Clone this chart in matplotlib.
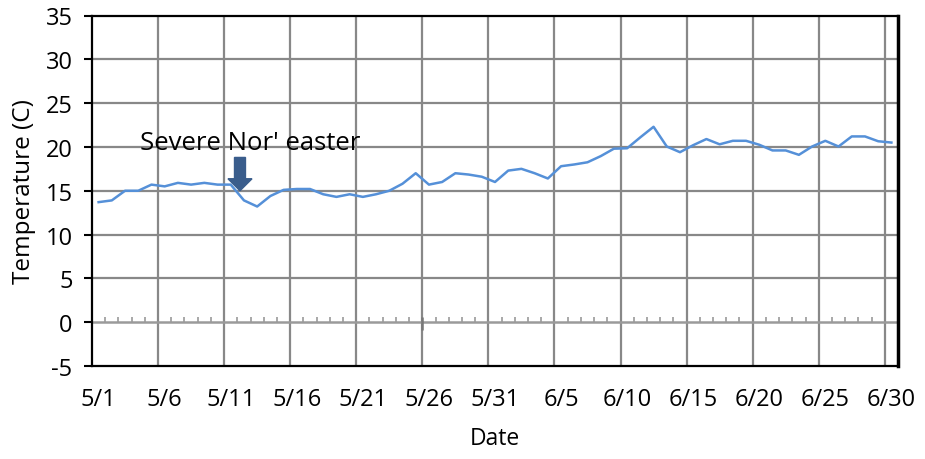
import matplotlib
matplotlib.use("Agg")
import matplotlib.pyplot as plt
from matplotlib.patches import FancyArrow
import numpy as np

plt.rcParams['font.family'] = ['Open Sans', 'DejaVu Sans']
plt.rcParams['axes.unicode_minus'] = False

# Daily temperatures 5/1 .. 6/30
dates = [f"5/{d}" for d in range(1, 32)] + [f"6/{d}" for d in range(1, 31)]
temps = [13.7, 13.9, 15.0, 15.0, 15.7, 15.5, 15.9, 15.7, 15.9, 15.7,
         15.7, 13.9, 13.2, 14.4, 15.1, 15.2, 15.2, 14.6, 14.3, 14.6,
         14.3, 14.6, 15.0, 15.8, 17.0, 15.7, 16.0, 17.0, 16.85, 16.6,
         16.0, 17.3, 17.5, 17.0, 16.4, 17.8, 18.0, 18.25, 18.95, 19.8,
         19.85, 21.1, 22.3, 20.05, 19.4, 20.2, 20.9, 20.3, 20.7, 20.7,
         20.25, 19.6, 19.6, 19.1, 20.05, 20.7, 20.05, 21.2, 21.2, 20.65,
         20.5]
y_ticks = [-5, 0, 5, 10, 15, 20, 25, 30, 35]
label_step = 5
annotation_text = "Severe Nor' easter"

idx = np.arange(len(temps))

fig = plt.figure(figsize=(9.25, 4.6), dpi=100)
ax = fig.add_axes([92/925, 93/460, 806/925, 350.5/460])

grid_c = '#888888'
ax.set_xlim(-0.5, len(temps) - 0.5)
ax.set_ylim(y_ticks[0], y_ticks[-1])

# horizontal grid
for yv in y_ticks[2:-1]:
    ax.axhline(yv, color=grid_c, lw=1.6, zorder=1)
# vertical grid at boundaries every 5 days
vb = np.arange(label_step - 0.5, len(temps) - 0.5, label_step)
for xv in vb:
    ax.axvline(xv, color=grid_c, lw=1.6, zorder=1)
# horizontal axis at 0
ax.axhline(0, color='#9a9a9a', lw=1.8, zorder=2)
# minor day ticks on the 0 axis
mb = [b for b in np.arange(0.5, len(temps) - 0.5, 1.0) if (b + 0.5) % label_step != 0]
ax.vlines(mb, 0, 0.6, color='#9a9a9a', lw=1.2, zorder=2)
ax.vlines([24.5], -0.9, 0.6, color='#777777', lw=1.8, zorder=2)

ax.plot(idx, temps, color='#5590d8', lw=1.8, zorder=3)

ax.set_xticks(idx[::label_step])
ax.set_xticklabels(dates[::label_step])
ax.tick_params(axis='x', length=0, pad=15, labelsize=17)
ax.set_yticks(y_ticks)
ax.tick_params(axis='y', length=6, width=1.5, direction='out', pad=8, labelsize=17)

for s in ['left', 'right', 'top', 'bottom']:
    ax.spines[s].set_color('black')
    ax.spines[s].set_linewidth(1.6)
ax.spines['right'].set_linewidth(2.5)

ax.set_xlabel('Date', fontsize=16.5, labelpad=11)
ax.set_ylabel('Temperature (C)', fontsize=17.5, labelpad=7)

# annotation arrow
arrow = FancyArrow(10.7, 18.8, 0, -3.8, width=0.83, head_width=1.82,
                   head_length=1.37, length_includes_head=True,
                   color='#3a5d8c', zorder=4)
ax.add_patch(arrow)
ax.text(11.5, 19.8, annotation_text, fontsize=18.5, ha='center', va='baseline', zorder=5)

fig.savefig('out.png', dpi=100)
